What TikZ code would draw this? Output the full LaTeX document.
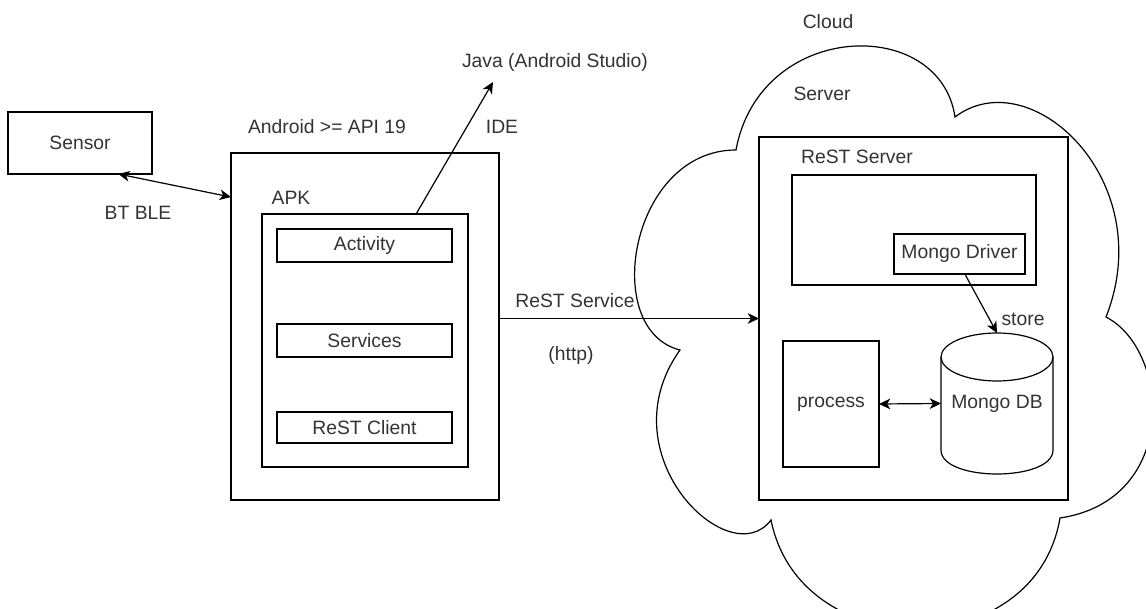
\documentclass[tikz,border=0pt]{standalone}
\usepackage{fontspec}
\setmainfont{Liberation Sans}
\usetikzlibrary{arrows.meta,fit}
\definecolor{txtgray}{HTML}{333333}

\begin{document}
\begin{tikzpicture}[
    x = 0.75pt,
    y = -0.75pt,
    >={Stealth[length=8.5pt,width=8pt,inset=2.5pt]},
    lbl/.style = {font=\fontsize{14.5}{17}\selectfont, text=txtgray},
    box/.style = {draw=black, line width=0.9pt, rectangle,
              inner sep=0pt, outer sep=0pt},
    link/.style = {black, line width=0.9pt},
    ]

\useasboundingbox (0,0) rectangle (1146,609);

% cloud
\draw [black, line width=0.9pt] (736,150)
    .. controls (760,20) and (940,15) .. (955,117)
    .. controls (1030,60) and (1160,180) .. (1106,317)
    .. controls (1170,350) and (1180,500) .. (1060,518)
    .. controls (1035,665) and (800,665) .. (771,520)
    .. controls (730,575) and (605,455) .. (680,350)
    .. controls (600,330) and (630,150) .. cycle;

\node[box, fit={(8,112) (152,174)}, label={[lbl]center:Sensor}] (sensor) {};
\node[box, fit={(231,153) (499,500)}] (android) {};
\node[box, fit={(262,214) (468,467)}] (apk) {};
\node[box, fit={(277,229) (452,262)}, label={[lbl]center:Activity}] (activity) {};
\node[box, fit={(277,324) (452,357)}, label={[lbl]center:Services}] (services) {};
\node[box, fit={(277,412) (452,443)}, label={[lbl]center:ReST Client}] (rest_client) {};

\node[box, fit={(759,137) (1068,500)}] (server) {};
\node[box, fit={(792,175) (1036,285)}] (rest_server) {};
\node[box, fit={(894,234) (1025,274)}, label={[lbl]center:Mongo Driver}] (mongo_driver) {};
\node[box, fit={(783,341) (879,467)}, label={[lbl]center:process}] (process) {};
\node[box, draw=none, fit={(941,333) (1053,474)}, label={[lbl]center:Mongo DB}] (mongo_db) {};

% database drum
\draw [link] (941,357) -- (941,450) .. controls (941,482) and (1053,482) .. (1053,450) -- (1053,357);
\draw [link] (997,357) ellipse [x radius=42pt, y radius=18pt];

\node[lbl] (bt_ble) at (138,213) {BT BLE};
\node[lbl] (android_lbl) at (327,127) {Android >= API 19};
\node[lbl] (apk_lbl) at (291,198) {APK};
\node[lbl] (ide_lbl) at (502,127) {IDE};
\node[lbl] (java) at (555,63) {Java (Android Studio)};
\node[lbl] (rest_service) at (575,301) {ReST Service};
\node[lbl] (http) at (571,356) {(http)};
\node[lbl] (cloud_lbl) at (828,22) {Cloud};
\node[lbl] (server_lbl) at (822,94) {Server};
\node[lbl] (rest_server_lbl) at (857,157) {ReST Server};
\node[lbl] (store) at (1023,319) {store};

\coordinate (ide_tip) at (493,82);

\draw [link, <->] (sensor.-39) -- (android.136);
\draw [link, ->] (apk.68) -- (ide_tip);
\draw [link, ->] (android.east |- server.west) -- (server.west);
\draw [link, ->] (mongo_driver.-75) -- (mongo_db.north);
\draw [link, <->] (process.east) -- (mongo_db.west);

\end{tikzpicture}
\end{document}
